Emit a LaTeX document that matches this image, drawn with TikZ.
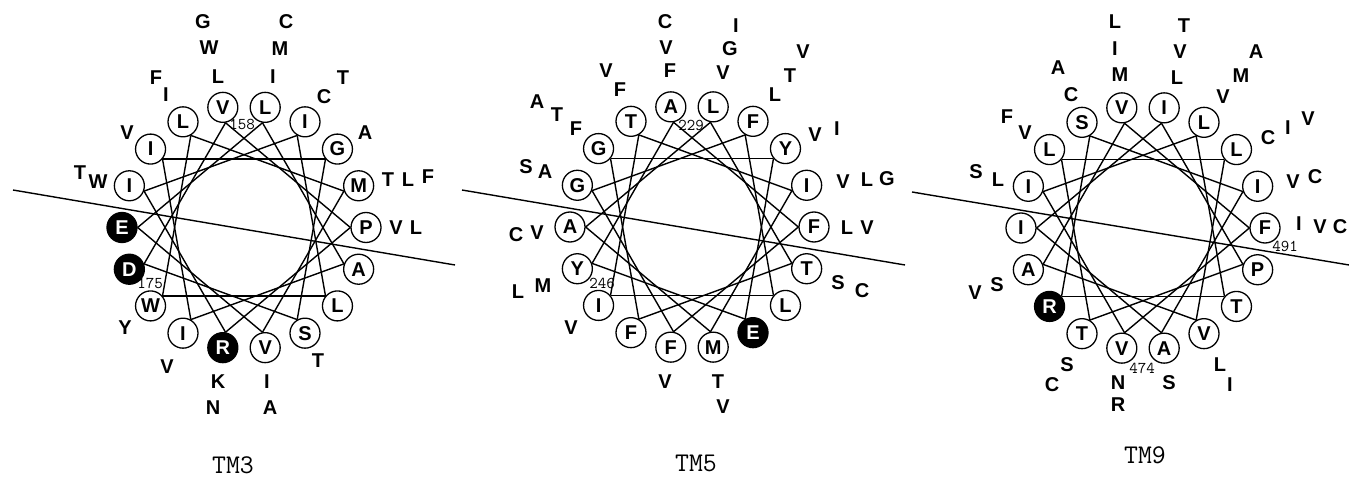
\documentclass[tikz,border=0pt]{standalone}
\usepackage{fontspec}
\setmainfont{Liberation Sans}
\begin{document}
\begin{tikzpicture}[x=1pt,y=1pt,
  res/.style={circle,draw,line width=1.3pt,fill=white,minimum size=30pt,inner sep=0pt,
              font=\fontsize{20}{20}\selectfont\bfseries},
  hit/.style={res,fill=black,text=white},
  chord/.style={line width=1.4pt},
  sub/.style={inner sep=0pt,font=\fontsize{20}{20}\selectfont\bfseries},
  resnum/.style={inner sep=0pt,font=\fontsize{16.5}{16.5}\selectfont\ttfamily},
  title/.style={inner sep=0pt,font=\fontsize{27}{27}\selectfont\ttfamily},
  axis/.style={line width=1.4pt}]

\useasboundingbox (0,0) rectangle (1349,480);
\fill[white] (0,0) rectangle (1349,480);
\clip (0,0) rectangle (1349,480);

% wheel centres
\coordinate (ca) at (244,252.5);
\coordinate (cb) at (692,253);
\coordinate (cc) at (1143,252);

% ---------- residues on the three wheels (position k at 20k degrees) ----------
\foreach \l/\kind [count=\n from 0, evaluate=\n as \ang using 20*\n] in
  {P/res,M/res,G/res,I/res,L/res,V/res,L/res,I/res,I/res,
   E/hit,D/hit,W/res,I/res,R/hit,V/res,S/res,L/res,A/res}
  \node[\kind] (a\n) at ([shift={(\ang:122)}]ca) {\l};

\foreach \l/\kind [count=\n from 0, evaluate=\n as \ang using 20*\n] in
  {F/res,I/res,Y/res,F/res,L/res,A/res,T/res,G/res,G/res,
   A/res,Y/res,I/res,F/res,F/res,M/res,E/hit,L/res,T/res}
  \node[\kind] (b\n) at ([shift={(\ang:122)}]cb) {\l};

\foreach \l/\kind [count=\n from 0, evaluate=\n as \ang using 20*\n] in
  {F/res,I/res,L/res,L/res,I/res,V/res,S/res,L/res,I/res,
   I/res,A/res,R/hit,T/res,V/res,A/res,V/res,T/res,P/res}
  \node[\kind] (c\n) at ([shift={(\ang:122)}]cc) {\l};

% ---------- chords: each residue to the one 100 degrees further on ----------
\foreach \w in {a,b,c}{
  \foreach \k in {0,...,17}{
    \pgfmathtruncatemacro\j{mod(\k+5,18)}
    \pgfmathtruncatemacro\ak{mod(20*\k+180,360)}
    \pgfmathtruncatemacro\aj{mod(20*\j+180,360)}
    \draw[chord] (\w\k.\ak) -- (\w\j.\aj);
  }
}

% ---------- dividing lines ----------
\coordinate (la1) at ([shift={(-231,37.5)}]ca);
\coordinate (la2) at ([shift={(211,-37.5)}]ca);
\coordinate (lb1) at ([shift={(-230,37)}]cb);
\coordinate (lb2) at ([shift={(213,-38)}]cb);
\coordinate (lc1) at ([shift={(-231,36)}]cc);
\coordinate (lc2) at ([shift={(212,-38)}]cc);
\draw[axis] (la1) -- (la2);
\draw[axis] (lb1) -- (lb2);
\draw[axis] (lc1) -- (lc2);

% ---------- substitutions around TM3 ----------
\foreach \x/\y/\t [count=\i] in {
  203/458/G, 209/432/W, 218/403/L, 286/458/C, 280/431/M, 273/403/I,
  156/402/F, 166/385/I, 324/383/C, 343/402/T, 127/347/V, 365/347/A,
  80/307/T, 98/298/W, 388/300/T, 408/300/L, 428/303/F, 396/252/V, 416/252/L,
  125/152/Y, 167/113/V, 218/98/K, 213/72/N, 267/98/I, 270/72/A, 318/119/T}
  \node[sub] (sa\i) at (\x,\y) {\t};

% ---------- substitutions around TM5 ----------
\foreach \x/\y/\t [count=\i] in {
  665/458/C, 666/432/V, 670/409/F, 736/454/I, 730/431/G, 723/407/V,
  803/428/V, 790/404/T, 775/385/L, 606/409/V, 620/390/F,
  537/378/A, 557/365/T, 576/351/F, 815/345/V, 837/351/I,
  526/313/S, 545/308/A, 843/298/V, 867/300/L, 887/301/G,
  516/245/C, 537/247/V, 847/252/L, 867/252/V,
  518/188/L, 543/194/M, 838/197/S, 862/189/C,
  571/152/V, 665/98/V, 718/98/T, 723/73/V}
  \node[sub] (sb\i) at (\x,\y) {\t};

% ---------- substitutions around TM9 ----------
\foreach \x/\y/\t [count=\i] in {
  1115/458/L, 1115/431/I, 1120/405/M, 1184/454/T, 1180/428/V, 1177/402/L,
  1256/428/A, 1241/404/M, 1223/383/V, 1058/412/A, 1071/385/C,
  1007/363/F, 1025/347/V, 1268/342/C, 1288/352/I, 1308/361/V,
  976/308/S, 998/300/L, 1293/298/V, 1315/303/C,
  1299/256/I, 1320/253/V, 1340/253/C,
  975/187/V, 997/195/S, 1067/115/S, 1052/95/C,
  1118/97/N, 1118/75/R, 1169/97/S, 1220/115/L, 1230/95/I}
  \node[sub] (sc\i) at (\x,\y) {\t};

% ---------- residue numbers ----------
\node[resnum] (na1) at (242,356) {158};
\node[resnum] (na2) at (150,197) {175};
\node[resnum] (nb1) at (691,355) {229};
\node[resnum] (nb2) at (602,197) {246};
\node[resnum] (nc1) at (1142,112) {474};
\node[resnum] (nc2) at (1285,234) {491};

% ---------- titles ----------
\node[title] (ta) at (233,15) {TM3};
\node[title] (tb) at (696,17) {TM5};
\node[title] (tc) at (1145,25) {TM9};
\end{tikzpicture}
\end{document}
